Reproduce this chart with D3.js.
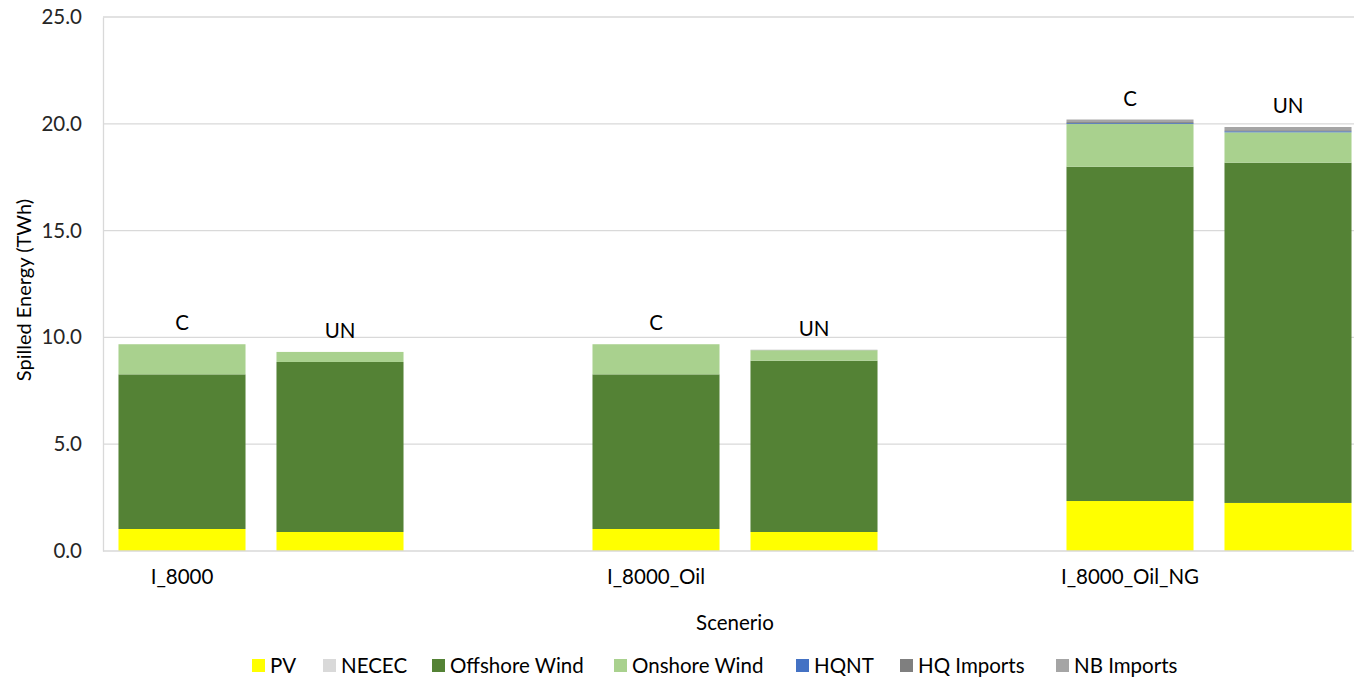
<!DOCTYPE html>
<html>
<head>
<meta charset="utf-8">
<script src="https://cdn.jsdelivr.net/npm/d3@7"></script>
<style>
  html, body { margin: 0; padding: 0; background: #ffffff; }
  svg { display: block; font-family: Lato, "Open Sans", sans-serif; }
</style>
</head>
<body>
<svg id="chart" width="1354" height="678"></svg>
<script>
// Category slots along the x axis (two cases per scenario, blank slot between scenarios)
const slotKeys = ["s0", "s1", "s2", "s3", "s4", "s5", "s6", "s7"];
const scenarioLabels = ["I_8000", "", "", "I_8000_Oil", "", "", "I_8000_Oil_NG", ""];
const caseLabels = ["C", "UN", "", "C", "UN", "", "C", "UN"];

// Spilled energy by resource (TWh), stacked bottom to top
const seriesNames = ["PV", "NECEC", "Offshore Wind", "Onshore Wind", "HQNT", "HQ Imports", "NB Imports"];
const pv        = [1.03, 0.89, 0, 1.03, 0.89, 0, 2.34, 2.25];
const necec     = [0, 0, 0, 0, 0, 0, 0, 0];
const offshore  = [7.24, 7.96, 0, 7.24, 8.02, 0, 15.65, 15.93];
const onshore   = [1.41, 0.47, 0, 1.41, 0.49, 0, 2.00, 1.42];
const hqnt      = [0, 0, 0, 0, 0, 0, 0.04, 0.05];
const hqImports = [0, 0, 0, 0, 0, 0, 0.05, 0.05];
const nbImports = [0, 0, 0, 0, 0.02, 0, 0.12, 0.15];
const seriesColors = ["#ffff00", "#d9d9d9", "#548235", "#a9d18e", "#4472c4", "#7f7f7f", "#a5a5a5"];

const yTicks = [0, 5, 10, 15, 20, 25];

const svg = d3.select("#chart");
const plot = { left: 103, right: 1367, top: 17, bottom: 551 };
const fs = 20.5;

const seriesValues = [pv, necec, offshore, onshore, hqnt, hqImports, nbImports];
const rows = slotKeys.map((k, i) => {
  const r = { key: k };
  seriesNames.forEach((s, j) => { r[s] = seriesValues[j][i]; });
  return r;
});

const x = d3.scaleBand()
  .domain(slotKeys)
  .range([plot.left, plot.right])
  .paddingInner(0.196)
  .paddingOuter(0.098);

const y = d3.scaleLinear().domain([0, 25]).range([plot.bottom, plot.top]);

// Horizontal gridlines
svg.append("g")
  .selectAll("line")
  .data(yTicks.filter(t => t > 0))
  .join("line")
  .attr("x1", plot.left).attr("x2", plot.right)
  .attr("y1", d => y(d)).attr("y2", d => y(d))
  .attr("stroke", "#d9d9d9").attr("stroke-width", 1.3);

// Y axis
const yAxis = svg.append("g")
  .attr("transform", `translate(${plot.left},0)`)
  .call(d3.axisLeft(y).tickValues(yTicks).tickFormat(d3.format(".1f")).tickSize(0).tickPadding(21));
yAxis.select(".domain").attr("stroke", "#d9d9d9").attr("stroke-width", 1.3);
yAxis.selectAll("text").attr("font-size", fs).attr("fill", "#262626").attr("font-family", "Lato, sans-serif");

// Stacked bars
const stack = d3.stack().keys(seriesNames);
const layers = stack(rows);
svg.append("g")
  .selectAll("g")
  .data(layers)
  .join("g")
  .attr("fill", (d, i) => seriesColors[i])
  .selectAll("rect")
  .data(d => d.filter(p => p[1] - p[0] > 0))
  .join("rect")
  .attr("x", d => x(d.data.key))
  .attr("width", x.bandwidth())
  .attr("y", d => y(d[1]))
  .attr("height", d => y(d[0]) - y(d[1]));

// X axis baseline
svg.append("line")
  .attr("x1", plot.left).attr("x2", plot.right)
  .attr("y1", plot.bottom).attr("y2", plot.bottom)
  .attr("stroke", "#d9d9d9").attr("stroke-width", 1.3);

// Case labels above each bar
const totals = rows.map(r => d3.sum(seriesNames, s => r[s]));
svg.append("g")
  .selectAll("text")
  .data(slotKeys.filter((k, i) => caseLabels[i] !== ""))
  .join("text")
  .attr("x", k => x(k) + x.bandwidth() / 2)
  .attr("y", k => y(totals[slotKeys.indexOf(k)]) - 14)
  .attr("text-anchor", "middle")
  .attr("font-size", fs)
  .attr("fill", "#000")
  .text(k => caseLabels[slotKeys.indexOf(k)]);

// Scenario labels under the axis
svg.append("g")
  .selectAll("text")
  .data(slotKeys.filter((k, i) => scenarioLabels[i] !== ""))
  .join("text")
  .attr("x", k => x(k) + x.bandwidth() / 2)
  .attr("y", 584)
  .attr("text-anchor", "middle")
  .attr("font-size", fs)
  .attr("fill", "#000")
  .text(k => scenarioLabels[slotKeys.indexOf(k)]);

// Axis titles
svg.append("text")
  .attr("x", (plot.left + plot.right) / 2)
  .attr("y", 630)
  .attr("text-anchor", "middle")
  .attr("font-size", fs)
  .attr("fill", "#000")
  .text("Scenerio");

svg.append("text")
  .attr("transform", `translate(31,${(plot.top + plot.bottom) / 2 + 6}) rotate(-90)`)
  .attr("text-anchor", "middle")
  .attr("font-size", 20)
  .attr("fill", "#000")
  .text("Spilled Energy (TWh)");

// Legend
const legendX = [252, 323, 432, 614, 796, 900, 1056];
const legend = svg.append("g")
  .selectAll("g")
  .data(seriesNames)
  .join("g")
  .attr("transform", (d, i) => `translate(${legendX[i]},659)`);
legend.append("rect")
  .attr("width", 13).attr("height", 13)
  .attr("fill", (d, i) => seriesColors[i]);
legend.append("text")
  .attr("x", 18).attr("y", 13.5)
  .attr("font-size", fs)
  .attr("fill", "#000")
  .text(d => d);
</script>
</body>
</html>
